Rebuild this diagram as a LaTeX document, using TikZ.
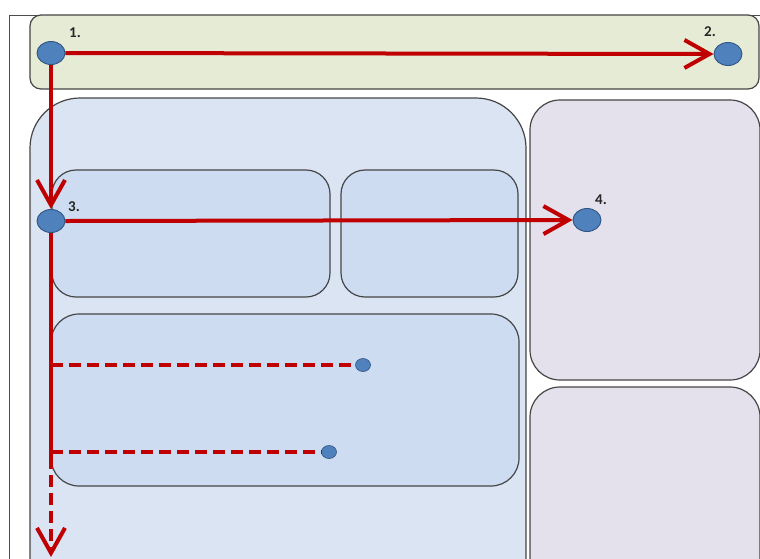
\documentclass[tikz,border=0pt]{standalone}
\usepackage{fontspec}
\setmainfont{Carlito}
\usetikzlibrary{shapes.geometric,arrows.meta}
\definecolor{redline}{RGB}{192,0,0}
\definecolor{greenfill}{RGB}{230,235,213}
\definecolor{bigblue}{RGB}{218,228,243}
\definecolor{innerblue}{RGB}{205,220,240}
\definecolor{purplefill}{RGB}{228,224,236}
\definecolor{boxline}{RGB}{70,70,70}
\definecolor{dotfill}{RGB}{79,129,189}
\definecolor{dotline}{RGB}{50,85,130}
\tikzset{
  panel/.style={draw=boxline, line width=1.2pt},
  bigdot/.style={ellipse, draw=dotline, fill=dotfill, line width=0.9pt, minimum width=28pt, minimum height=23pt, inner sep=0pt},
  smalldot/.style={ellipse, draw=dotline, fill=dotfill, line width=0.6pt, minimum width=15pt, minimum height=13pt, inner sep=0pt},
  lbl/.style={font=\bfseries\fontsize{15}{15}\selectfont, text=black!85, inner sep=0pt},
  tip/.style={-{Straight Barb[length=25pt,width=28pt,line width=4pt]}},
  flow/.style={draw=redline, line width=4pt, tip},
  flowplain/.style={draw=redline, line width=4pt},
  flowdash/.style={draw=redline, line width=4pt, dash pattern=on 12pt off 6pt},
}
\begin{document}
\begin{tikzpicture}[x=1pt,y=-1pt]
\useasboundingbox (0,0) rectangle (760,558);
\fill[white] (0,0) rectangle (760,558);
\begin{scope}
\clip (0,0) rectangle (760,558);
% outer frame
\draw[black!70, line width=1pt] (9,600) -- (9,15) -- (770,15);
% green header band
\draw[panel, fill=greenfill, rounded corners=11pt] (30,15) rectangle (759,89);
% big blue panel
\draw[panel, fill=bigblue, rounded corners=50pt] (30,98) rectangle (526,680);
% inner boxes
\draw[panel, fill=innerblue, rounded corners=24pt] (52,170) rectangle (330,297);
\draw[panel, fill=innerblue, rounded corners=24pt] (341,170) rectangle (518,297);
\draw[panel, fill=innerblue, rounded corners=28pt] (51,314) rectangle (519,486);
% purple side panels
\draw[panel, fill=purplefill, rounded corners=30pt] (530,100) rectangle (760,380);
\draw[panel, fill=purplefill, rounded corners=30pt] (530,387) rectangle (760,680);
\end{scope}

% nodes
\node[bigdot] (n1) at (51,53) {};
\node[bigdot] (n2) at (728,54) {};
\node[bigdot] (n3) at (51,221) {};
\node[bigdot] (n4) at (587,220) {};
\node[smalldot] (d1) at (363,365) {};
\node[smalldot] (d2) at (329,452) {};

\node[lbl] (l1) at (75,33) {1.};
\node[lbl] (l2) at (710,32) {2.};
\node[lbl] (l3) at (74,207) {3.};
\node[lbl] (l4) at (601,200) {4.};

\coordinate (b1) at (51,365);
\coordinate (b2) at (51,452);
\coordinate (solidend) at (51,457);
\coordinate (downend) at (51,557);

% connectors
\draw[flow] (n1.east) -- (n2.west);
\draw[flow] (n1.south) -- (n3.north);
\draw[flow] (n3.east) -- (n4.west);
\draw[flowplain] (n3.south) -- (solidend);
\draw[flowdash] (b1) -- (d1.west);
\draw[flowdash] (b2) -- (d2.west);
\draw[flowdash, tip] (solidend) -- (downend);
\end{tikzpicture}
\end{document}
